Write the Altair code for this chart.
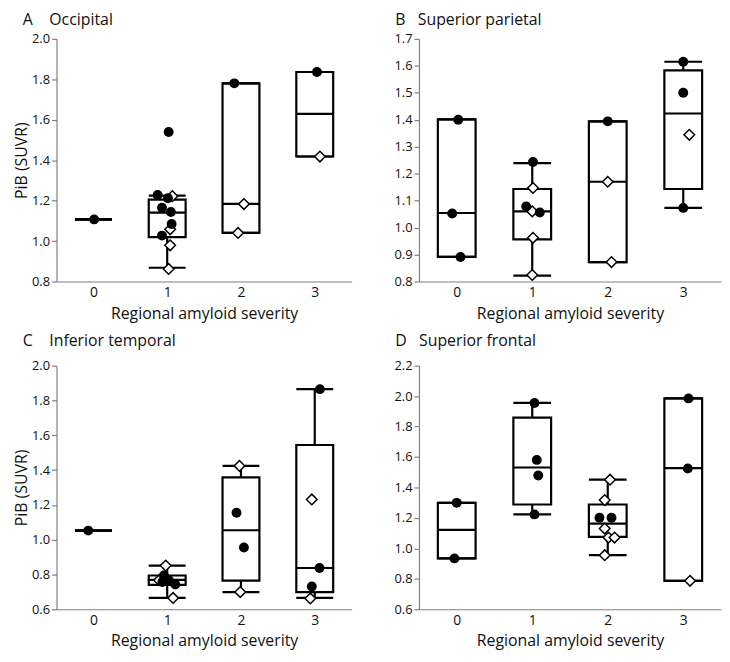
import altair as alt
import pandas as pd

FONT = "Open Sans"
XTITLE = "Regional amyloid severity"
YTITLE = "PiB (SUVR)"
CATS = [0, 1, 2, 3]
X_LABELS = [0, 1, 2, 3]

# ---------------- Panel A: Occipital ----------------
A_Q1 = [1.107, 1.019, 1.040, 1.418]
A_MED = [1.107, 1.141, 1.184, 1.629]
A_Q3 = [1.107, 1.205, 1.780, 1.836]
A_WLO = [1.107, 0.868, 1.040, 1.418]
A_WHI = [1.107, 1.225, 1.780, 1.836]
A_PT_CAT = [0, 1, 1, 1, 1, 1, 1, 1, 1, 1, 1, 1, 2, 2, 2, 3, 3]
A_PT_VAL = [1.107, 1.539, 1.228, 1.212, 1.165, 1.144, 1.084, 1.027, 1.222, 1.058, 0.979, 0.862,
            1.780, 1.183, 1.040, 1.836, 1.418]
A_PT_JIT = [0.01, 0.02, -0.13, 0.01, -0.07, 0.05, 0.06, -0.07, 0.07, 0.04, 0.04, 0.02,
            -0.09, 0.04, -0.04, 0.03, 0.07]
A_PT_KIND = ["filled", "filled", "filled", "filled", "filled", "filled", "filled", "filled",
             "open", "open", "open", "open", "filled", "open", "open", "filled", "open"]
A_TICKS = [0.8, 1.0, 1.2, 1.4, 1.6, 1.8, 2.0]

# ---------------- Panel B: Superior parietal ----------------
B_Q1 = [0.891, 0.956, 0.872, 1.143]
B_MED = [1.054, 1.060, 1.170, 1.423]
B_Q3 = [1.401, 1.143, 1.394, 1.583]
B_WLO = [0.891, 0.822, 0.872, 1.073]
B_WHI = [1.401, 1.239, 1.394, 1.615]
B_PT_CAT = [0, 0, 0, 1, 1, 1, 1, 1, 1, 1, 2, 2, 2, 3, 3, 3, 3]
B_PT_VAL = [1.400, 1.052, 0.891, 1.243, 1.078, 1.056, 1.147, 1.060, 0.962, 0.824,
            1.394, 1.170, 0.872, 1.615, 1.500, 1.073, 1.344]
B_PT_JIT = [0.02, -0.06, 0.05, 0.01, -0.08, 0.10, 0.01, 0.00, 0.01, 0.00,
            0.00, 0.00, 0.05, 0.00, 0.00, 0.00, 0.08]
B_PT_KIND = ["filled", "filled", "filled", "filled", "filled", "filled", "open", "open", "open", "open",
             "filled", "open", "open", "filled", "filled", "filled", "open"]
B_TICKS = [0.8, 0.9, 1.0, 1.1, 1.2, 1.3, 1.4, 1.5, 1.6, 1.7]

# ---------------- Panel C: Inferior temporal ----------------
C_Q1 = [1.052, 0.740, 0.765, 0.699]
C_MED = [1.052, 0.769, 1.054, 0.837]
C_Q3 = [1.052, 0.794, 1.358, 1.544]
C_WLO = [1.052, 0.665, 0.699, 0.665]
C_WHI = [1.052, 0.851, 1.424, 1.865]
C_PT_CAT = [0, 1, 1, 1, 1, 1, 1, 1, 2, 2, 2, 2, 3, 3, 3, 3, 3]
C_PT_VAL = [1.052, 0.851, 0.767, 0.665, 0.794, 0.756, 0.768, 0.743,
            1.424, 0.699, 1.155, 0.955, 1.231, 0.662, 1.865, 0.837, 0.731]
C_PT_JIT = [-0.07, -0.02, -0.11, 0.08, -0.045, -0.065, 0.02, 0.11,
            -0.02, -0.01, -0.06, 0.04, -0.04, -0.06, 0.07, 0.065, -0.04]
C_PT_KIND = ["filled", "open", "open", "open", "filled", "filled", "filled", "filled",
             "open", "open", "filled", "filled", "open", "open", "filled", "filled", "filled"]
C_TICKS = [0.6, 0.8, 1.0, 1.2, 1.4, 1.6, 1.8, 2.0]

# ---------------- Panel D: Superior frontal ----------------
D_Q1 = [0.934, 1.288, 1.075, 0.787]
D_MED = [1.121, 1.531, 1.162, 1.527]
D_Q3 = [1.299, 1.859, 1.288, 1.985]
D_WLO = [0.934, 1.223, 0.956, 0.787]
D_WHI = [1.299, 1.955, 1.451, 1.985]
D_PT_CAT = [0, 0, 1, 1, 1, 1, 2, 2, 2, 2, 2, 2, 2, 2, 3, 3, 3]
D_PT_VAL = [1.299, 0.934, 1.955, 1.581, 1.479, 1.223,
            1.451, 1.317, 1.130, 1.071, 1.071, 0.955, 1.201, 1.201,
            1.985, 1.525, 0.787]
D_PT_JIT = [0.00, -0.03, 0.03, 0.06, 0.08, 0.03,
            0.03, -0.04, -0.04, 0.01, 0.09, -0.04, -0.11, 0.05,
            0.07, 0.06, 0.09]
D_PT_KIND = ["filled", "filled", "filled", "filled", "filled", "filled",
             "open", "open", "open", "open", "open", "open", "filled", "filled",
             "filled", "filled", "open"]
D_TICKS = [0.6, 0.8, 1.0, 1.2, 1.4, 1.6, 1.8, 2.0, 2.2]

LINE_W = 2.2
HALF_BOX = 0.25
NB = "\u00a0"


def panel(letter, name, q1, med, q3, wlo, whi, pcat, pval, pjit, pkind, ticks,
          width, height, ytitle, title_offset):
    box = pd.DataFrame({"cat": CATS, "q1": q1, "med": med, "q3": q3, "wlo": wlo, "whi": whi})
    pts = pd.DataFrame({"cat": pcat, "val": pval, "jit": pjit, "kind": pkind})

    xscale = alt.Scale(domain=[-0.5, 3.5], nice=False, zero=False)
    yscale = alt.Scale(domain=[ticks[0], ticks[-1]], nice=False, zero=False)
    xaxis = alt.Axis(values=X_LABELS, format="d", ticks=False, tickSize=0, grid=False,
                     title=XTITLE, labelFontSize=14, labelPadding=4, titlePadding=6,
                     titleFontSize=16, titleFontWeight="normal")
    if ytitle:
        yaxis = alt.Axis(values=ticks, format=".1f", tickSize=5, grid=False, title=YTITLE,
                         labelFontSize=13, labelPadding=2, titlePadding=2,
                         titleFontSize=16, titleFontWeight="normal")
    else:
        yaxis = alt.Axis(values=ticks, format=".1f", tickSize=5, grid=False, title=None,
                         labelFontSize=13, labelPadding=2)

    bb = alt.Chart(box).transform_calculate(
        xl=f"datum.cat - {HALF_BOX}", xr=f"datum.cat + {HALF_BOX}"
    )
    rects = bb.mark_rect(fill="white", fillOpacity=0, stroke="black", strokeWidth=LINE_W).encode(
        x=alt.X("xl:Q", scale=xscale, axis=xaxis),
        x2="xr:Q",
        y=alt.Y("q1:Q", scale=yscale, axis=yaxis),
        y2="q3:Q",
    )
    medians = bb.mark_rule(color="black", strokeWidth=LINE_W).encode(
        x=alt.X("xl:Q", scale=xscale, axis=xaxis), x2="xr:Q",
        y=alt.Y("med:Q", scale=yscale, axis=yaxis),
    )
    caps_lo = bb.mark_rule(color="black", strokeWidth=LINE_W).encode(
        x=alt.X("xl:Q", scale=xscale, axis=xaxis), x2="xr:Q",
        y=alt.Y("wlo:Q", scale=yscale, axis=yaxis),
    )
    caps_hi = bb.mark_rule(color="black", strokeWidth=LINE_W).encode(
        x=alt.X("xl:Q", scale=xscale, axis=xaxis), x2="xr:Q",
        y=alt.Y("whi:Q", scale=yscale, axis=yaxis),
    )
    wh_lo = bb.mark_rule(color="black", strokeWidth=LINE_W).encode(
        x=alt.X("cat:Q", scale=xscale, axis=xaxis),
        y=alt.Y("wlo:Q", scale=yscale, axis=yaxis), y2="q1:Q",
    )
    wh_hi = bb.mark_rule(color="black", strokeWidth=LINE_W).encode(
        x=alt.X("cat:Q", scale=xscale, axis=xaxis),
        y=alt.Y("q3:Q", scale=yscale, axis=yaxis), y2="whi:Q",
    )

    pp = alt.Chart(pts).transform_calculate(xp="datum.cat + datum.jit")
    diamonds = pp.transform_filter("datum.kind == 'open'").mark_point(
        shape="diamond", filled=True, fill="white", stroke="black", strokeWidth=1.5,
        size=115, opacity=1
    ).encode(
        x=alt.X("xp:Q", scale=xscale, axis=xaxis),
        y=alt.Y("val:Q", scale=yscale, axis=yaxis),
    )
    circles = pp.transform_filter("datum.kind == 'filled'").mark_circle(
        color="black", size=100, opacity=1
    ).encode(
        x=alt.X("xp:Q", scale=xscale, axis=xaxis),
        y=alt.Y("val:Q", scale=yscale, axis=yaxis),
    )

    if ytitle:
        text = letter + NB * 4 + name
        dx = -34
    else:
        text = letter + NB * 3 + name
        dx = -24
    title = alt.TitleParams(
        text=text, anchor="start", frame="group", dx=dx,
        offset=title_offset, fontSize=16, fontWeight="normal", font=FONT, color="#111111",
    )
    return alt.layer(rects, medians, wh_lo, wh_hi, caps_lo, caps_hi, diamonds, circles).properties(
        width=width, height=height, title=title
    )


pa = panel("A", "Occipital", A_Q1, A_MED, A_Q3, A_WLO, A_WHI, A_PT_CAT, A_PT_VAL, A_PT_JIT,
           A_PT_KIND, A_TICKS, 298, 245, True, 5)
pb = panel("B", "Superior parietal", B_Q1, B_MED, B_Q3, B_WLO, B_WHI, B_PT_CAT, B_PT_VAL, B_PT_JIT,
           B_PT_KIND, B_TICKS, 305, 245, False, 5)
pc = panel("C", "Inferior temporal", C_Q1, C_MED, C_Q3, C_WLO, C_WHI, C_PT_CAT, C_PT_VAL, C_PT_JIT,
           C_PT_KIND, C_TICKS, 298, 246, True, 11)
pd_ = panel("D", "Superior frontal", D_Q1, D_MED, D_Q3, D_WLO, D_WHI, D_PT_CAT, D_PT_VAL, D_PT_JIT,
            D_PT_KIND, D_TICKS, 305, 246, False, 11)

chart = alt.concat(pa, pb, pc, pd_, columns=2, spacing={"row": 10, "column": 41}).properties(
    padding={"left": 5, "top": 0, "right": 0, "bottom": 0}
).configure_view(stroke="transparent").configure_axis(
    labelFont=FONT, titleFont=FONT, labelColor="#111111", titleColor="#111111",
    domainColor="#808080", tickColor="#808080", domainWidth=1.2, tickWidth=1.2,
).configure_title(font=FONT)

chart.save("out.html", embed_options={"renderer": "svg", "actions": False})
